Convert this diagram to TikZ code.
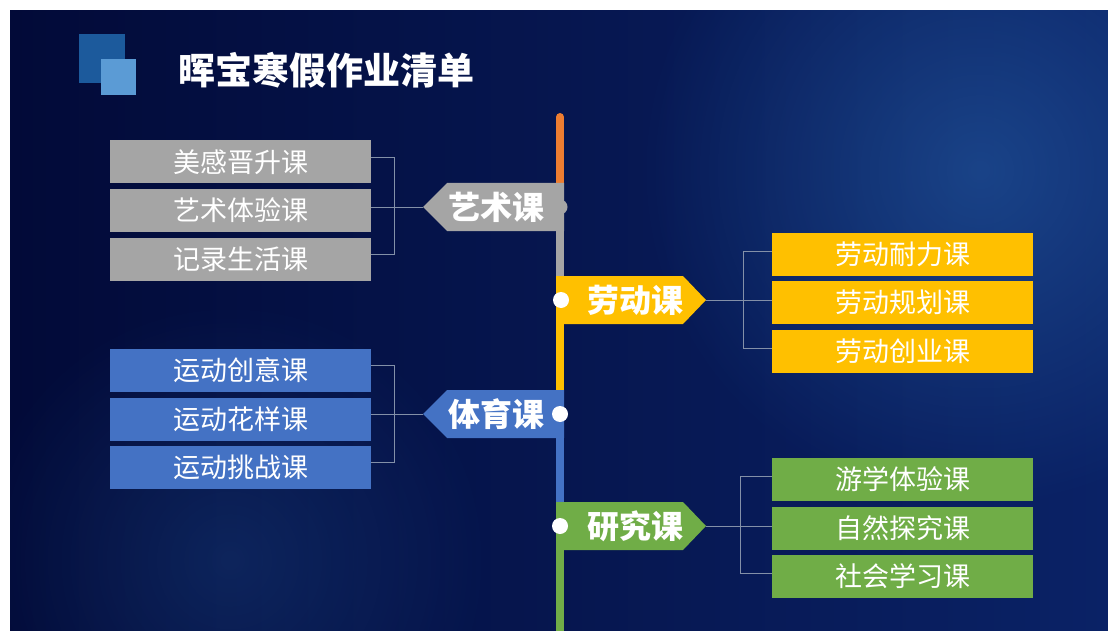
\documentclass[tikz,border=0pt]{standalone}
\usepackage{fontspec}
\newfontfamily\cjk{Noto Sans CJK SC}
\usetikzlibrary{fadings}
\definecolor{bgA}{HTML}{020A38}
\definecolor{bgB}{HTML}{0A2266}
\definecolor{glow}{HTML}{2E6FB8}
\definecolor{artgray}{HTML}{A5A5A5}
\definecolor{labyel}{HTML}{FFC000}
\definecolor{sportblue}{HTML}{4472C4}
\definecolor{resgreen}{HTML}{70AD47}
\definecolor{topor}{HTML}{ED7D31}
\definecolor{logoA}{HTML}{1C5A9C}
\definecolor{logoB}{HTML}{5B9BD5}
\definecolor{brk}{HTML}{8390A8}
\tikzfading[name=softglow, inner color=transparent!55, outer color=transparent!100]
\tikzset{
  itembox/.style={minimum width=261pt, minimum height=43pt, inner sep=0pt, text=white,
    font=\cjk\fontsize{27}{27}\selectfont},
  tagtext/.style={inner sep=0pt, text=white, font=\cjk\bfseries\fontsize{32}{32}\selectfont},
  spine/.style={line width=8pt},
  brkline/.style={draw=brk, line width=0.9pt},
  dotw/.style={fill=white},
}
\begin{document}
\begin{tikzpicture}[x=1pt,y=-1pt]
\useasboundingbox (0,0) rectangle (1108,631);
\fill[white] (0,0) rectangle (1108,631);
% background
\shade[left color=bgA, right color=bgB] (10,11) rectangle (1108,631);
\begin{scope}
  \clip (10,11) rectangle (1108,631);
  \fill[glow, path fading=softglow] (980,170) circle (340);
  \fill[glow, path fading=softglow, fill opacity=0.5] (230,560) circle (260);
\end{scope}
% logo and title
\fill[logoA] (79,34) rectangle (125,83);
\fill[logoB] (101,59) rectangle (136,95);
\node[anchor=west, inner sep=0pt, text=white, font=\cjk\bfseries\fontsize{37}{37}\selectfont] (title) at (178,70) {晖宝寒假作业清单};
% spine
\draw[spine, topor, line cap=round] (560,117) -- (560,183);
\draw[spine, artgray] (560,183) -- (560,276);
\draw[spine, labyel] (560,276) -- (560,390);
\draw[spine, sportblue] (560,390) -- (560,502);
\draw[spine, resgreen] (560,502) -- (560,631);
% tags
\coordinate (atip) at (423,207);
\coordinate (ltip) at (706,300);
\coordinate (stip) at (423,414);
\coordinate (rtip) at (706,526);
\fill[artgray] (atip) -- (447,183) -- (564,183) -- (564,231) -- (447,231) -- cycle;
\fill[labyel] (556,276) -- (683,276) -- (ltip) -- (683,324) -- (556,324) -- cycle;
\fill[sportblue] (stip) -- (447,390) -- (564,390) -- (564,438) -- (447,438) -- cycle;
\fill[resgreen] (556,502) -- (683,502) -- (rtip) -- (683,550) -- (556,550) -- cycle;
\node[tagtext] (art) at (496,207) {艺术课};
\node[tagtext] (lab) at (635,300) {劳动课};
\node[tagtext] (spo) at (496,414) {体育课};
\node[tagtext] (res) at (635,526) {研究课};
\fill[artgray] (560,207) circle (7.5);
\fill[dotw] (561,300) circle (8);
\fill[dotw] (560,414) circle (8);
\fill[dotw] (560,526) circle (8);
% item boxes
\node[itembox, fill=artgray] (g1) at (240.5,162) {美感晋升课};
\node[itembox, fill=artgray] (g2) at (240.5,210.5) {艺术体验课};
\node[itembox, fill=artgray] (g3) at (240.5,259) {记录生活课};
\node[itembox, fill=sportblue] (b1) at (240.5,370.5) {运动创意课};
\node[itembox, fill=sportblue] (b2) at (240.5,419) {运动花样课};
\node[itembox, fill=sportblue] (b3) at (240.5,467.5) {运动挑战课};
\node[itembox, fill=labyel] (y1) at (902.5,254) {劳动耐力课};
\node[itembox, fill=labyel] (y2) at (902.5,302.5) {劳动规划课};
\node[itembox, fill=labyel] (y3) at (902.5,351) {劳动创业课};
\node[itembox, fill=resgreen] (r1) at (902.5,479.5) {游学体验课};
\node[itembox, fill=resgreen] (r2) at (902.5,528) {自然探究课};
\node[itembox, fill=resgreen] (r3) at (902.5,576.5) {社会学习课};
% brackets
\draw[brkline] ([yshift=5pt]g1.east) -- ++(23,0) |- ([yshift=5pt]g3.east);
\draw[brkline] (g2.east |- atip) -- (atip);
\draw[brkline] ([yshift=5pt]b1.east) -- ++(23,0) |- ([yshift=5pt]b3.east);
\draw[brkline] (b2.east |- stip) -- (stip);
\draw[brkline] ([yshift=3pt]y1.west) -- ++(-28,0) |- ([yshift=3pt]y3.west);
\draw[brkline] (ltip) -- (y2.west |- ltip);
\draw[brkline] ([yshift=3pt]r1.west) -- ++(-31,0) |- ([yshift=3pt]r3.west);
\draw[brkline] (rtip) -- (r2.west |- rtip);
\end{tikzpicture}
\end{document}
